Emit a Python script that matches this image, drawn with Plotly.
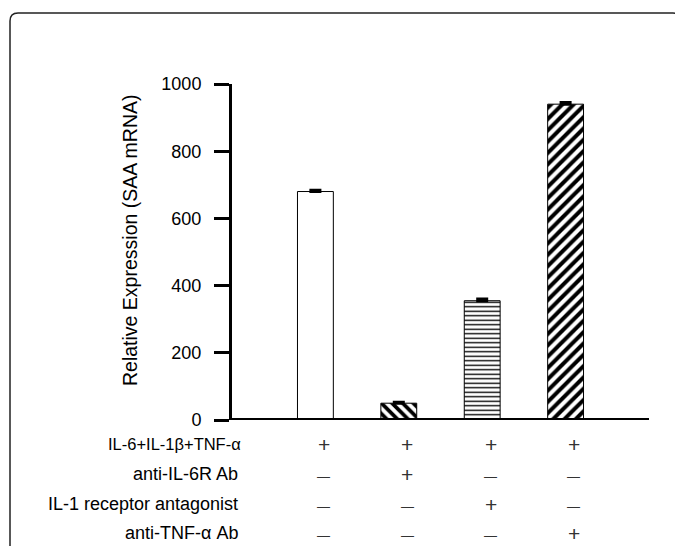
import plotly.graph_objects as go

# ---- data ----
groups = [0, 1, 2, 3]
values = [680, 50, 355, 940]
errors = [4, 3, 5, 5]
patterns = ["", "\\", "-", "/"]
row_labels = ["IL-6+IL-1\u03b2+TNF-\u03b1", "anti-IL-6R Ab",
              "IL-1 receptor antagonist", "anti-TNF-\u03b1 Ab"]
signs = [
    ["+", "+", "+", "+"],
    ["-", "+", "-", "-"],
    ["-", "-", "+", "-"],
    ["-", "-", "-", "+"],
]
y_ticks = [0, 200, 400, 600, 800, 1000]

# ---- layout geometry (reference pixels; page body has an 8px margin) ----
OFF = 8
W, H = 683 - OFF, 546 - OFF
L = 232 - OFF
T = 84 - OFF
R = W - (649 - OFF)
B = H - (420 - OFF)
pw, ph = W - L - R, H - T - B


def px_x(p):
    return (p - OFF - L) / pw


def px_y(p):
    return (T + ph - (p - OFF)) / ph


FONT = "Liberation Sans, Arial, sans-serif"

fig = go.Figure()
fig.add_trace(go.Bar(
    x=groups, y=values, width=0.43,
    marker=dict(color="white", line=dict(color="black", width=1),
                pattern=dict(shape=patterns, fgcolor="black", bgcolor="white", fgopacity=1,
                             size=[8, 7.5, 4.5, 8], solidity=[0.3, 0.5, 0.3, 0.5])),
    error_y=dict(type="data", symmetric=False, array=errors,
                 arrayminus=[0] * len(errors), color="black", thickness=3, width=6),
    showlegend=False,
))

annotations = []
row_y = [444, 474, 504, 533]
row_sizes = [16.5, 18, 18, 18]
row_right = [243, 240, 240, 240]
for r, lab in enumerate(row_labels):
    annotations.append(dict(x=px_x(row_right[r]), y=px_y(row_y[r]), xref="paper", yref="paper",
                            text=lab, showarrow=False, xanchor="right", yanchor="middle",
                            font=dict(family=FONT, size=row_sizes[r], color="black")))
    for i, s in enumerate(signs[r]):
        if s == "+":
            annotations.append(dict(x=groups[i] + 0.1, y=px_y(row_y[r]), xref="x", yref="paper",
                                    text="+", showarrow=False, xanchor="center", yanchor="middle",
                                    font=dict(family=FONT, size=21, color="#333")))
        else:
            annotations.append(dict(x=groups[i] + 0.1, y=px_y(row_y[r] + 2), xref="x", yref="paper",
                                    text="\u2014", showarrow=False, xanchor="center", yanchor="middle",
                                    font=dict(family=FONT, size=13, color="#333")))

annotations.append(dict(x=px_x(130), y=px_y(240), xref="paper", yref="paper",
                        text="Relative Expression (SAA mRNA)", textangle=-90, showarrow=False,
                        xanchor="center", yanchor="middle",
                        font=dict(family=FONT, size=19.5, color="black")))

# rounded frame
x0, x1 = px_x(10), px_x(681)
y0, y1 = px_y(560), px_y(13)
rx, ry = 8 / pw, 8 / ph
path = (f"M {x0} {y0} L {x0} {y1 - ry} Q {x0} {y1} {x0 + rx} {y1} "
        f"L {x1 - rx} {y1} Q {x1} {y1} {x1} {y1 - ry} L {x1} {y0}")

fig.update_layout(
    width=W, height=H,
    margin=dict(l=L, r=R, t=T, b=B),
    paper_bgcolor="white", plot_bgcolor="white",
    font=dict(family=FONT, size=18, color="black"),
    xaxis=dict(range=[-1, 4], showticklabels=False, ticks="", showgrid=False,
               zeroline=False, showline=False),
    yaxis=dict(range=[0, 1000], tickvals=y_ticks, ticks="outside", ticklen=15,
               tickwidth=3, tickcolor="black", showgrid=False, zeroline=False,
               showline=True, linecolor="black", linewidth=3, ticklabelstandoff=9,
               tickfont=dict(family=FONT, size=18, color="black")),
    annotations=annotations,
    shapes=[
        dict(type="line", xref="paper", yref="y", x0=-0.004, x1=1, y0=0, y1=0,
             line=dict(color="black", width=4)),
        dict(type="path", xref="paper", yref="paper", path=path,
             line=dict(color="#222", width=1.5)),
    ],
)

fig.write_html("out.html")
